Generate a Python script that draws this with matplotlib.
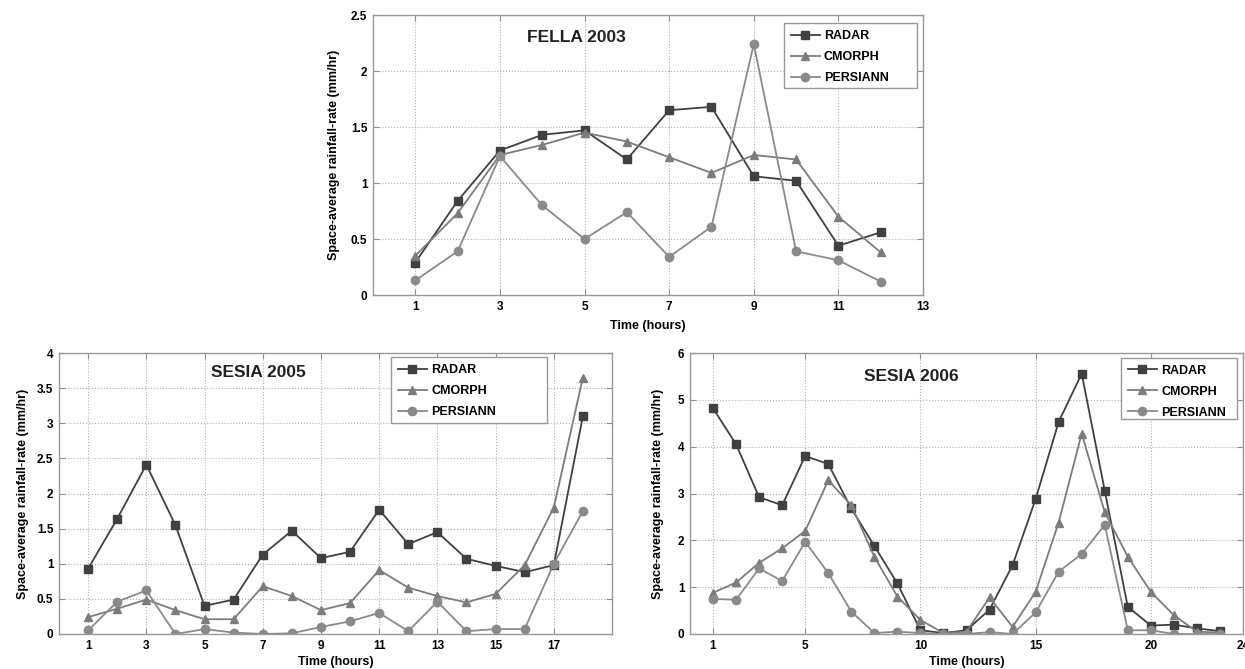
import numpy as np
import matplotlib
matplotlib.use("Agg")
import matplotlib.pyplot as plt
from matplotlib.patches import Rectangle

plt.rcParams['font.family'] = ['Liberation Sans', 'DejaVu Sans']
plt.rcParams['font.weight'] = 'bold'

# --- data ---
series_names = ['RADAR', 'CMORPH', 'PERSIANN']

fella_radar = [0.29, 0.84, 1.29, 1.43, 1.47, 1.21, 1.65, 1.68, 1.06, 1.02, 0.44, 0.56]
fella_cmorph = [0.35, 0.73, 1.25, 1.34, 1.45, 1.37, 1.23, 1.09, 1.25, 1.21, 0.70, 0.38]
fella_persiann = [0.13, 0.39, 1.24, 0.80, 0.50, 0.74, 0.34, 0.61, 2.24, 0.39, 0.31, 0.12]

sesia05_radar = [0.93, 1.64, 2.41, 1.55, 0.40, 0.49, 1.13, 1.47, 1.08, 1.17, 1.77, 1.28,
                 1.45, 1.07, 0.97, 0.88, 0.98, 3.10]
sesia05_cmorph = [0.24, 0.36, 0.49, 0.34, 0.21, 0.21, 0.68, 0.54, 0.34, 0.44, 0.91, 0.66,
                  0.54, 0.45, 0.57, 0.98, 1.80, 3.65]
sesia05_persiann = [0.05, 0.46, 0.62, 0.00, 0.07, 0.02, 0.00, 0.01, 0.10, 0.18, 0.30, 0.04,
                    0.46, 0.04, 0.07, 0.07, 1.00, 1.75]

sesia06_radar = [4.82, 4.05, 2.92, 2.75, 3.80, 3.63, 2.68, 1.88, 1.08, 0.08, 0.02, 0.08,
                 0.52, 1.47, 2.88, 4.53, 5.56, 3.06, 0.58, 0.18, 0.20, 0.12, 0.06]
sesia06_cmorph = [0.88, 1.10, 1.52, 1.83, 2.20, 3.28, 2.75, 1.65, 0.80, 0.30, 0.02, 0.05,
                  0.78, 0.15, 0.90, 2.38, 4.28, 2.60, 1.65, 0.90, 0.40, 0.05, 0.03]
sesia06_persiann = [0.75, 0.73, 1.40, 1.13, 1.97, 1.30, 0.48, 0.02, 0.05, 0.02, 0.00, 0.00,
                    0.04, 0.00, 0.46, 1.33, 1.71, 2.33, 0.08, 0.08, 0.00, 0.00, 0.00]

fella_xticks = [1, 3, 5, 7, 9, 11, 13]
sesia05_xticks = [1, 3, 5, 7, 9, 11, 13, 15, 17]
sesia06_xticks = [1, 5, 10, 15, 20, 24]

W, H = 1245, 669
fig = plt.figure(figsize=(W / 100, H / 100), dpi=100)

styles = [dict(color='#404040', marker='s'),
          dict(color='#7c7c7c', marker='^'),
          dict(color='#8a8a8a', marker='o')]


def px_box(left, top, right, bottom):
    # pixel box -> figure fraction [x, y, w, h]
    return [left / W, 1 - bottom / H, (right - left) / W, (bottom - top) / H]


def panel(box, series, xlim, xticks, ylim, ystep, title, title_pos, leg_px):
    ax = fig.add_axes(px_box(*box))
    for vals, name, st in zip(series, series_names, styles):
        x = np.arange(1, len(vals) + 1)
        ax.plot(x, vals, linewidth=1.3, markersize=6, label=name, **st)
    ax.set_xlim(*xlim)
    ax.set_ylim(*ylim)
    ax.set_xticks(xticks)
    yt = np.arange(ylim[0], ylim[1] + 1e-9, ystep)
    ax.set_yticks(yt)
    ax.set_yticklabels(['%g' % v for v in yt])
    ax.grid(True, linestyle=':', color='#b0b0b0', linewidth=0.8)
    ax.tick_params(direction='in', top=True, right=True, labelsize=8.5,
                   length=4, color='#909090', pad=4)
    for lbl in ax.get_xticklabels() + ax.get_yticklabels():
        lbl.set_fontweight('bold')
    for s in ax.spines.values():
        s.set_color('#999999')
        s.set_linewidth(1.0)
    ax.set_xlabel('Time (hours)', fontsize=9, fontweight='bold')
    ax.set_ylabel('Space-average rainfall-rate (mm/hr)', fontsize=9, fontweight='bold')
    ax.text(title_pos[0], title_pos[1], title, transform=ax.transAxes, ha='center',
            va='center', fontsize=12.5, fontweight='bold', color='#222222')

    # legend with a MATLAB-like frame (extra room on the right)
    lb = px_box(*leg_px)
    fig.patches.append(Rectangle((lb[0], lb[1]), lb[2], lb[3], transform=fig.transFigure,
                                 facecolor='white', edgecolor='#999999', linewidth=1.0,
                                 zorder=5))
    leg = fig.legend(*ax.get_legend_handles_labels(), loc='upper left',
                     bbox_to_anchor=(lb[0], lb[1] + lb[3]),
                     prop=dict(size=9, weight='bold'), frameon=False,
                     handlelength=2.3, borderpad=0.55, labelspacing=0.72,
                     handletextpad=0.35, borderaxespad=0.0)
    leg.set_zorder(6)
    return ax


ax1 = panel((373, 15, 923, 295), [fella_radar, fella_cmorph, fella_persiann], (0, 13),
            fella_xticks, (0, 2.5), 0.5, 'FELLA 2003', (0.37, 0.92), (784, 23, 917, 88))
ax1.yaxis.labelpad = 8
ax1.xaxis.labelpad = 5

ax2 = panel((59, 353, 612, 634), [sesia05_radar, sesia05_cmorph, sesia05_persiann], (0, 19),
            sesia05_xticks, (0, 4), 0.5, 'SESIA 2005', (0.36, 0.93), (391, 357, 547, 423))
ax2.yaxis.labelpad = 6
ax2.xaxis.labelpad = 3

ax3 = panel((690, 353, 1243, 634), [sesia06_radar, sesia06_cmorph, sesia06_persiann], (0, 24),
            sesia06_xticks, (0, 6), 1, 'SESIA 2006', (0.40, 0.915), (1121, 358, 1237, 419))
ax3.yaxis.labelpad = 10
ax3.xaxis.labelpad = 3

fig.savefig('out.png', dpi=100)
